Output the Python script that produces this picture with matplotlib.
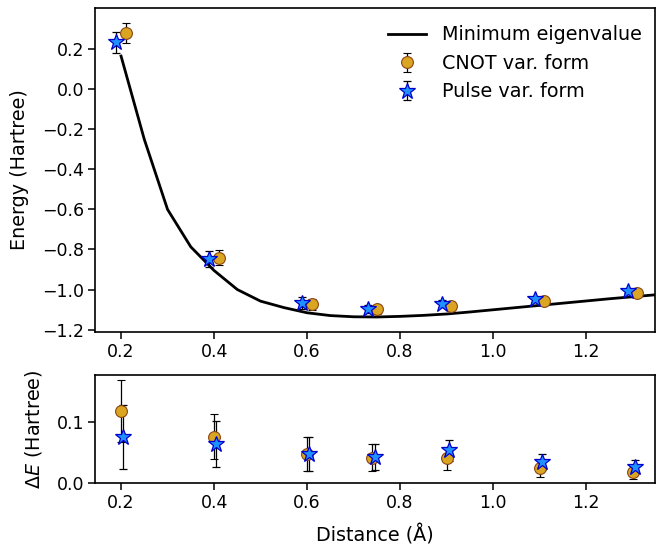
import matplotlib
matplotlib.use("Agg")
import matplotlib.pyplot as plt
import numpy as np

# Minimum eigenvalue curve
dist_line = [0.2, 0.25, 0.3, 0.35, 0.4, 0.45, 0.5, 0.55, 0.6, 0.65, 0.7, 0.75,
             0.8, 0.85, 0.9, 0.95, 1.0, 1.05, 1.1, 1.15, 1.2, 1.25, 1.3, 1.35, 1.4]
e_min = [0.166, -0.25, -0.60, -0.787, -0.905, -1.0, -1.058, -1.09, -1.116, -1.130,
         -1.136, -1.137, -1.134, -1.129, -1.122, -1.112, -1.101, -1.090, -1.079,
         -1.068, -1.057, -1.046, -1.036, -1.026, -1.016]

# Variational results
dist = [0.2, 0.4, 0.6, 0.74, 0.9, 1.1, 1.3]
e_cnot = [0.28, -0.842, -1.073, -1.099, -1.083, -1.058, -1.018]
e_pulse = [0.235, -0.847, -1.067, -1.097, -1.070, -1.049, -1.008]
de_cnot = [0.119, 0.076, 0.047, 0.042, 0.041, 0.024, 0.018]
de_pulse = [0.076, 0.065, 0.048, 0.043, 0.054, 0.034, 0.027]
err_cnot = [0.051, 0.037, 0.028, 0.022, 0.019, 0.014, 0.011]
err_pulse = [0.053, 0.038, 0.028, 0.022, 0.017, 0.013, 0.011]

fig = plt.figure(figsize=(6.56, 5.47), dpi=100)
ax1 = fig.add_axes([95/656, 1-332/547, 560/656, 324/547])
ax2 = fig.add_axes([95/656, 1-483/547, 560/656, 108/547])

d = np.array(dist)
circ_kw = dict(fmt='o', color='#DAA520', mec='#8B4513', mew=0.8, ms=8.5,
               ecolor='k', elinewidth=0.9, capsize=2.7, capthick=0.9)
star_kw = dict(fmt='*', color='#1E90FF', mec='#0000CD', mew=0.9, ms=12,
               ecolor='k', elinewidth=0.9, capsize=2.7, capthick=0.9)

ax1.plot(dist_line, e_min, color='k', lw=2, label='Minimum eigenvalue')
ax1.errorbar(d + 0.01, e_cnot, yerr=err_cnot, label='CNOT var. form', **circ_kw)
ax1.errorbar(d - 0.01, e_pulse, yerr=err_pulse, label='Pulse var. form', **star_kw)
ax1.set_xlim(0.144, 1.348)
ax1.set_ylim(-1.212, 0.406)
ax1.set_yticks(np.arange(-1.2, 0.21, 0.2))
ax1.set_ylabel('Energy (Hartree)', fontsize=13.75, labelpad=9)
ax1.legend(frameon=False, fontsize=13.75, loc='upper right', handlelength=2.0,
           borderaxespad=0.3, bbox_to_anchor=(1.0, 0.988))

ax2.errorbar(d, de_cnot, yerr=err_cnot, **circ_kw)
ax2.errorbar(d + 0.005, de_pulse, yerr=err_pulse, **star_kw)
ax2.set_xlim(0.144, 1.348)
ax2.set_ylim(0, 0.178)
ax2.set_yticks([0.0, 0.1])
ax2.set_ylabel(r'$\Delta E$ (Hartree)', fontsize=13.75, labelpad=9)
ax2.set_xlabel('Distance (Å)', fontsize=13.75, labelpad=9)

for ax in (ax1, ax2):
    ax.tick_params(labelsize=12.5, length=5, width=1.1, pad=3)
    for s in ax.spines.values():
        s.set_linewidth(1.2)

fig.savefig('out.png', dpi=100)
